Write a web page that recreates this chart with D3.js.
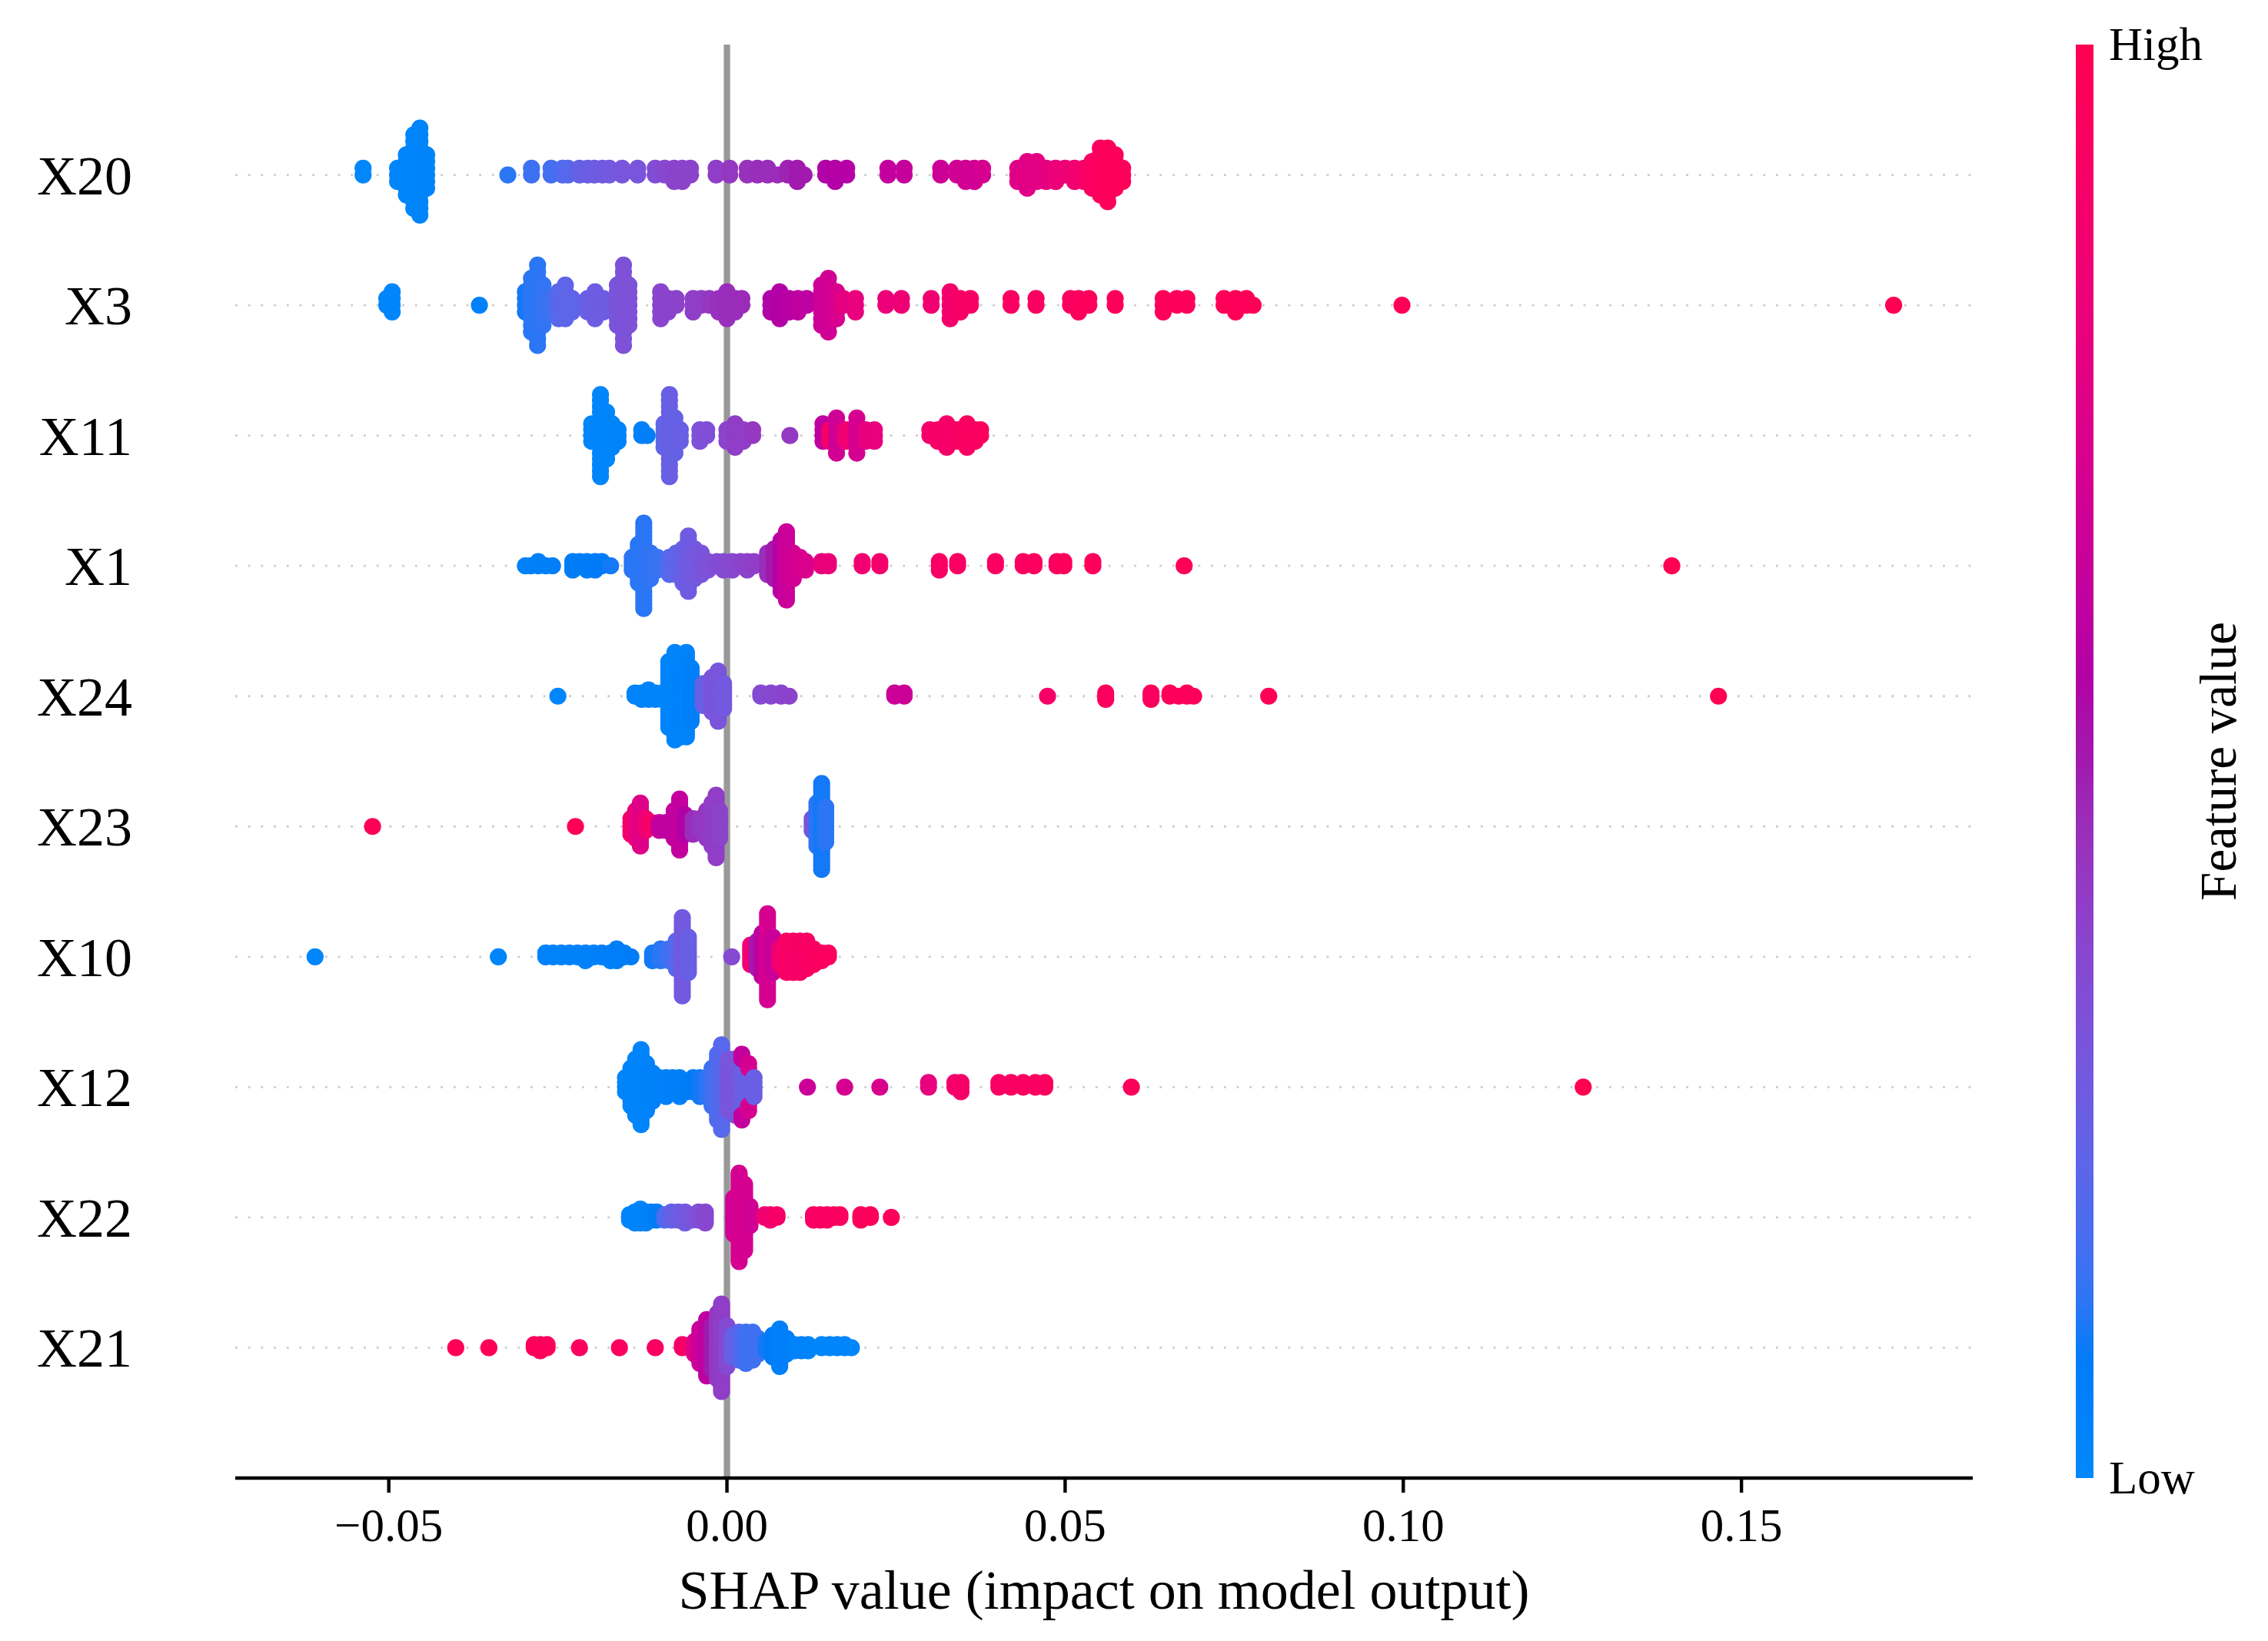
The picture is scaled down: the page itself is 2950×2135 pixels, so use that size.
<!DOCTYPE html>
<html><head><meta charset="utf-8">
<script src="https://cdn.jsdelivr.net/npm/d3@7"></script>
<style>
body{margin:0;background:#fff}
svg{display:block}
text{font-family:"Liberation Serif","Times New Roman",serif;fill:#000}
</style>
</head><body>
<svg id="chart" width="2950" height="2135"></svg>
<script>
// ---------------- DATA ----------------
// Features, top to bottom
const features = ["X20","X3","X11","X1","X24","X23","X10","X12","X22","X21"];
// Each entry: [SHAP value, number of dots at that value, normalised feature value 0..1]
const x20 = [[-0.0538,2,0.0],[-0.0487,3,0.02],[-0.0474,7,0.02],[-0.0463,12,0.02],[-0.0454,14,0.03],[-0.0444,6,0.03],
 [-0.0324,1,0.12],[-0.0289,2,0.15],[-0.0260,2,0.16],[-0.0243,2,0.18],[-0.0235,2,0.2],[-0.0218,2,0.24],[-0.0206,2,0.25],
 [-0.0196,2,0.26],[-0.0184,2,0.27],[-0.0174,2,0.28],[-0.0155,2,0.3],[-0.0132,2,0.3],[-0.0106,2,0.34],[-0.0092,2,0.36],
 [-0.0078,3,0.38],[-0.0066,3,0.38],[-0.0054,2,0.38],[-0.0016,2,0.4],[0.0004,2,0.42],[0.0030,2,0.44],[0.0045,2,0.45],
 [0.0060,2,0.45],[0.0075,1,0.46],[0.0090,2,0.48],[0.0104,3,0.5],[0.0114,1,0.5],[0.0146,2,0.55],[0.0160,3,0.56],
 [0.0177,2,0.57],[0.0238,2,0.62],[0.0262,2,0.63],[0.0316,2,0.66],[0.0340,2,0.68],[0.0353,3,0.68],[0.0366,3,0.68],
 [0.0378,2,0.7],[0.0430,3,0.75],[0.0444,5,0.76],[0.0458,4,0.77],[0.0472,3,0.78],[0.0486,3,0.82],[0.0500,2,0.84],
 [0.0514,3,0.86],[0.0528,3,0.9],[0.0540,5,0.93],[0.0552,8,0.95],[0.0563,9,0.97],[0.0574,6,0.97],[0.0585,3,0.97]];
const x3 = [[-0.0503,2,0.02],[-0.0495,4,0.02],[-0.0366,1,0.05],[-0.0298,4,0.1],[-0.0289,9,0.12],[-0.0280,13,0.12],
 [-0.0272,7,0.13],[-0.0262,3,0.15],[-0.0249,5,0.2],[-0.0239,6,0.22],[-0.0229,3,0.22],[-0.0206,3,0.25],[-0.0195,5,0.26],
 [-0.0183,3,0.27],[-0.0162,7,0.3],[-0.0153,13,0.32],[-0.0145,7,0.32],[-0.0098,5,0.37],[-0.0087,3,0.38],[-0.0075,2,0.38],
 [-0.0050,3,0.4],[-0.0038,2,0.4],[-0.0026,2,0.42],[-0.0012,3,0.44],[0.0000,5,0.45],[0.0012,3,0.45],[0.0022,2,0.46],
 [0.0065,3,0.55],[0.0078,5,0.56],[0.0092,3,0.58],[0.0105,3,0.6],[0.0118,2,0.6],[0.0140,7,0.66],[0.0150,9,0.68],
 [0.0162,5,0.72],[0.0172,2,0.78],[0.0190,3,0.8],[0.0235,2,0.82],[0.0258,2,0.84],[0.0302,2,0.86],[0.0330,5,0.88],
 [0.0345,3,0.9],[0.0360,2,0.92],[0.0420,2,0.93],[0.0457,2,0.94],[0.0508,2,0.95],[0.0520,3,0.95],[0.0535,2,0.96],
 [0.0574,2,0.96],[0.0645,3,0.97],[0.0665,2,0.97],[0.0680,2,0.97],[0.0735,2,0.98],[0.0752,3,0.98],[0.0768,2,0.98],
 [0.0778,1,0.98],[0.0998,1,0.99],[0.1725,1,1.0]];
const x11 = [[-0.0200,4,0.02],[-0.0187,15,0.02],[-0.0178,9,0.02],[-0.0170,5,0.03],[-0.0161,3,0.04],[-0.0126,2,0.05],
 [-0.0118,1,0.06],[-0.0093,5,0.22],[-0.0085,15,0.25],[-0.0077,7,0.24],[-0.0069,3,0.25],[-0.0040,3,0.32],[-0.0030,2,0.33],
 [0.0000,3,0.38],[0.0012,5,0.4],[0.0024,3,0.4],[0.0038,2,0.42],[0.0093,1,0.42],[0.0142,4,0.6],[0.0152,3,0.9],
 [0.0162,7,0.68],[0.0176,3,0.85],[0.0192,7,0.7],[0.0205,3,0.78],[0.0218,3,0.8],[0.0300,2,0.88],[0.0312,3,0.9],
 [0.0325,5,0.9],[0.0340,3,0.92],[0.0355,5,0.94],[0.0367,3,0.94],[0.0375,2,0.95]];
const x1 = [[-0.0298,1,0.05],[-0.0290,1,0.05],[-0.0279,2,0.05],[-0.0268,1,0.06],[-0.0258,1,0.06],[-0.0228,3,0.08],
 [-0.0218,2,0.08],[-0.0207,3,0.08],[-0.0195,3,0.09],[-0.0185,2,0.09],[-0.0172,1,0.1],[-0.0140,4,0.12],[-0.0131,10,0.12],
 [-0.0123,21,0.12],[-0.0113,7,0.13],[-0.0103,4,0.14],[-0.0085,5,0.2],[-0.0075,6,0.22],[-0.0065,9,0.25],[-0.0057,14,0.27],
 [-0.0048,8,0.28],[-0.0038,6,0.3],[-0.0028,3,0.32],[-0.0015,2,0.34],[-0.0005,3,0.35],[0.0008,3,0.36],[0.0020,2,0.38],
 [0.0030,3,0.38],[0.0040,2,0.4],[0.0060,6,0.45],[0.0070,8,0.5],[0.0080,13,0.58],[0.0088,17,0.65],[0.0098,7,0.68],
 [0.0108,4,0.7],[0.0116,3,0.72],[0.0140,2,0.8],[0.0150,2,0.82],[0.0200,2,0.86],[0.0226,2,0.88],[0.0314,3,0.92],
 [0.0341,2,0.93],[0.0397,2,0.94],[0.0438,2,0.94],[0.0454,2,0.95],[0.0488,2,0.95],[0.0498,2,0.96],[0.0541,2,0.96],
 [0.0676,1,0.98],[0.1397,1,1.0]];
const x24 = [[-0.0250,1,0.02],[-0.0136,2,0.03],[-0.0126,3,0.03],[-0.0116,4,0.03],[-0.0106,3,0.03],[-0.0096,3,0.03],
 [-0.0086,22,0.03],[-0.0077,29,0.03],[-0.0068,27,0.04],[-0.0060,28,0.04],[-0.0053,18,0.06],[-0.0035,8,0.25],
 [-0.0022,12,0.3],[-0.0013,17,0.3],[-0.0005,9,0.28],[0.0050,2,0.35],[0.0065,2,0.36],[0.0080,2,0.37],[0.0092,1,0.38],
 [0.0248,2,0.65],[0.0262,2,0.66],[0.0474,1,0.9],[0.0560,3,0.95],[0.0627,3,0.95],[0.0655,2,0.96],[0.0668,1,0.96],
 [0.0680,2,0.96],[0.0690,1,0.96],[0.0801,1,0.98],[0.1466,1,1.0]];
const x23 = [[-0.0524,1,0.98],[-0.0224,1,0.98],[-0.0142,5,0.88],[-0.0135,8,0.82],[-0.0128,12,0.75],[-0.0120,4,0.85],
 [-0.0112,2,0.9],[-0.0100,3,0.62],[-0.0090,3,0.6],[-0.0078,8,0.62],[-0.0070,14,0.62],[-0.0062,6,0.56],[-0.0050,5,0.45],
 [-0.0040,4,0.42],[-0.0030,8,0.42],[-0.0022,12,0.4],[-0.0016,17,0.4],[-0.0011,8,0.38],[0.0126,4,0.3],[0.0133,12,0.12],
 [0.0140,23,0.1],[0.0146,10,0.12]];
const x10 = [[-0.0609,1,0.02],[-0.0338,1,0.03],[-0.0268,2,0.04],[-0.0257,2,0.04],[-0.0245,2,0.04],[-0.0233,2,0.05],
 [-0.0221,2,0.05],[-0.0209,3,0.05],[-0.0197,2,0.05],[-0.0185,2,0.06],[-0.0172,3,0.06],[-0.0163,4,0.07],[-0.0152,2,0.07],
 [-0.0142,1,0.08],[-0.0110,3,0.1],[-0.0098,4,0.12],[-0.0086,4,0.15],[-0.0075,8,0.2],[-0.0066,21,0.28],[-0.0057,10,0.25],
 [0.0007,1,0.35],[0.0035,6,0.85],[0.0045,8,0.5],[0.0052,12,0.6],[0.0060,23,0.7],[0.0068,10,0.65],[0.0078,5,0.85],
 [0.0088,9,0.92],[0.0098,9,0.92],[0.0108,9,0.9],[0.0118,8,0.92],[0.0128,5,0.93],[0.0140,3,0.95],[0.0150,2,0.95]];
const x12 = [[-0.0150,4,0.03],[-0.0142,9,0.03],[-0.0135,13,0.03],[-0.0127,17,0.03],[-0.0119,11,0.04],[-0.0110,7,0.05],
 [-0.0100,4,0.05],[-0.0090,5,0.05],[-0.0080,4,0.06],[-0.0070,5,0.06],[-0.0060,3,0.07],[-0.0050,4,0.08],[-0.0040,5,0.1],
 [-0.0030,5,0.12],[-0.0022,9,0.15],[-0.0014,15,0.18],[-0.0008,19,0.2],[0.0002,12,0.3],[0.0012,13,0.3],[0.0022,11,0.25],
 [0.0022,4,0.62],[0.0032,7,0.25],[0.0032,4,0.7],[0.0040,5,0.25],[0.0119,1,0.65],[0.0174,1,0.7],[0.0226,1,0.72],
 [0.0298,2,0.8],[0.0337,2,0.88],[0.0346,3,0.9],[0.0402,2,0.92],[0.0420,2,0.93],[0.0438,2,0.94],[0.0456,2,0.94],
 [0.0470,2,0.95],[0.0598,1,0.97],[0.1266,1,1.0]];
const x22 = [[-0.0144,3,0.03],[-0.0136,5,0.03],[-0.0128,6,0.03],[-0.0120,5,0.04],[-0.0112,4,0.05],[-0.0104,4,0.08],
 [-0.0092,3,0.18],[-0.0082,4,0.24],[-0.0072,4,0.26],[-0.0062,5,0.28],[-0.0052,3,0.3],[-0.0042,4,0.33],[-0.0032,5,0.36],
 [0.0010,14,0.68],[0.0018,33,0.7],[0.0026,25,0.7],[0.0034,8,0.68],[0.0056,2,0.85],[0.0064,3,0.87],[0.0074,2,0.9],
 [0.0128,3,0.92],[0.0138,3,0.93],[0.0148,3,0.94],[0.0158,2,0.95],[0.0167,2,0.95],[0.0198,3,0.96],[0.0212,2,0.96],
 [0.0243,1,0.97]];
const x21 = [[-0.0401,1,0.98],[-0.0352,1,0.98],[-0.0285,2,0.96],[-0.0276,3,0.96],[-0.0266,2,0.96],[-0.0218,1,0.95],
 [-0.0159,1,0.95],[-0.0106,1,0.94],[-0.0066,2,0.9],[-0.0048,5,0.75],[-0.0040,12,0.65],[-0.0030,19,0.6],[-0.0022,15,0.5],
 [-0.0014,22,0.42],[-0.0008,29,0.4],[0.0000,14,0.35],[0.0008,8,0.25],[0.0018,10,0.2],[0.0028,11,0.15],[0.0038,10,0.15],
 [0.0046,6,0.15],[0.0058,4,0.1],[0.0068,8,0.08],[0.0078,13,0.06],[0.0088,6,0.06],[0.0100,3,0.04],[0.0110,3,0.04],
 [0.0120,3,0.03],[0.0140,2,0.02],[0.0152,2,0.02],[0.0163,2,0.02],[0.0174,2,0.02],[0.0184,1,0.02]];

const xTickValues = [-0.05, 0, 0.05, 0.10, 0.15];
const xTickLabels = ["\u22120.05", "0.00", "0.05", "0.10", "0.15"];
const colorbarTickLabels = ["Low", "High"];
const xAxisTitle = "SHAP value (impact on model output)";
const colorbarTitle = "Feature value";

const rowData = {X20:x20, X3:x3, X11:x11, X1:x1, X24:x24, X23:x23, X10:x10, X12:x12, X22:x22, X21:x21};

// ---------------- LAYOUT ----------------
const svg = d3.select("#chart");
const plotL = 306, plotR = 2566, plotT = 58, plotB = 1923;
const x = d3.scaleLinear().domain([-0.0727, 0.1842]).range([plotL, plotR]);
const y = d3.scaleLinear().domain([-1, features.length]).range([plotB, plotT]);

// SHAP red_blue colour map (Lch interpolation)
function redBlue(t){
  t = Math.max(0, Math.min(1, t));
  const l = t < 0.5 ? 54 + (40 - 54) * (t / 0.5) : 40 + (54 - 40) * ((t - 0.5) / 0.5);
  const c = 70 + 20 * t;
  const h = 266.93 + (380.32 - 266.93) * t;
  return d3.hcl(h % 360, c, l).formatHex();
}
const color = d3.scaleSequential(redBlue).domain([0, 1]);

// dotted row guides
const guides = svg.append("g");
features.forEach((f, i) => {
  const pos = features.length - 1 - i;
  guides.append("line")
    .attr("x1", plotL).attr("x2", plotR)
    .attr("y1", y(pos)).attr("y2", y(pos))
    .attr("stroke", "#cccccc").attr("stroke-width", 2.8)
    .attr("stroke-dasharray", "2.8 13.9");
});

// zero line
svg.append("line")
  .attr("x1", x(0)).attr("x2", x(0))
  .attr("y1", plotT).attr("y2", plotB)
  .attr("stroke", "#999999").attr("stroke-width", 8.3);

// beeswarm points
const dots = svg.append("g");
features.forEach((f, i) => {
  const pos = features.length - 1 - i;
  const groups = rowData[f];
  const totals = new Map();
  groups.forEach(g => totals.set(g[0], (totals.get(g[0]) || 0) + g[1]));
  let M = 0;
  totals.forEach(c => { M = Math.max(M, Math.floor((c - 1) / 2)); });
  const scale = 0.9 * 0.4 / (M + 1);
  const layerAt = new Map();
  const pts = [];
  groups.forEach(([v, c, fv]) => {
    for (let k = 0; k < c; k++) {
      const layer = layerAt.get(v) || 0;
      const off = Math.ceil(layer / 2) * ((layer % 2) * 2 - 1);
      layerAt.set(v, layer + 1);
      pts.push({v: v, fv: fv, yv: pos + off * scale});
    }
  });
  dots.selectAll(null).data(pts).enter().append("circle")
    .attr("cx", d => x(d.v))
    .attr("cy", d => y(d.yv))
    .attr("r", 11.1)
    .attr("fill", d => color(d.fv));
});

// bottom axis
const axisG = svg.append("g");
axisG.append("line").attr("x1", plotL).attr("x2", plotR)
  .attr("y1", plotB).attr("y2", plotB).attr("stroke", "#000").attr("stroke-width", 4.4);
xTickValues.forEach((v, i) => {
  axisG.append("line").attr("x1", x(v)).attr("x2", x(v))
    .attr("y1", plotB).attr("y2", plotB + 19)
    .attr("stroke", "#000").attr("stroke-width", 4.4);
  axisG.append("text").attr("x", x(v)).attr("y", 2005)
    .attr("text-anchor", "middle").attr("font-size", 61).text(xTickLabels[i]);
});
svg.append("text").attr("x", (plotL + plotR) / 2).attr("y", 2093)
  .attr("text-anchor", "middle").attr("font-size", 72).text(xAxisTitle);

// feature labels
features.forEach((f, i) => {
  const pos = features.length - 1 - i;
  svg.append("text").attr("x", 172).attr("y", y(pos) + 25)
    .attr("text-anchor", "end").attr("font-size", 72).text(f);
});

// colour bar
const defs = svg.append("defs");
const grad = defs.append("linearGradient").attr("id", "cbar")
  .attr("x1", 0).attr("y1", 1).attr("x2", 0).attr("y2", 0);
d3.range(0, 1.0001, 0.02).forEach(t => {
  grad.append("stop").attr("offset", t).attr("stop-color", color(t));
});
const cbX = 2700, cbW = 23;
svg.append("rect").attr("x", cbX).attr("y", plotT).attr("width", cbW)
  .attr("height", plotB - plotT).attr("fill", "url(#cbar)");
svg.append("text").attr("x", 2743).attr("y", plotT + 20).attr("font-size", 61).text(colorbarTickLabels[1]);
svg.append("text").attr("x", 2743).attr("y", plotB + 20).attr("font-size", 61).text(colorbarTickLabels[0]);
svg.append("text").attr("transform", `translate(2908,${(plotT + plotB) / 2}) rotate(-90)`)
  .attr("text-anchor", "middle").attr("font-size", 67).text(colorbarTitle);
</script>
</body></html>
